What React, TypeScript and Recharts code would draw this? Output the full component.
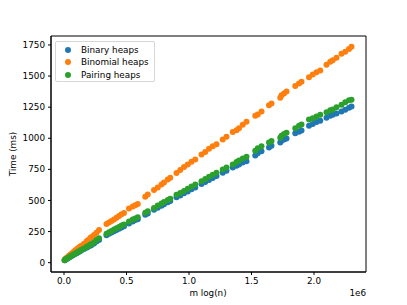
import { ScatterChart, Scatter, XAxis, YAxis, ReferenceArea } from 'recharts';

// m log(n) values (raw, axis shows them in units of 1e6)
const mLogN = [
  0.005, 0.01, 0.015, 0.02, 0.03, 0.04, 0.05, 0.06, 0.07, 0.08, 0.09, 0.1, 0.11, 0.12, 0.13, 0.14, 0.16, 0.18, 0.19,
  0.21, 0.22, 0.24, 0.26, 0.28, 0.34, 0.36, 0.38, 0.4, 0.42, 0.44, 0.46, 0.48, 0.52, 0.55, 0.57, 0.59, 0.65, 0.67,
  0.72, 0.75, 0.78, 0.8, 0.83, 0.85, 0.9, 0.93, 0.96, 0.99, 1.02, 1.05, 1.1, 1.13, 1.16, 1.19, 1.22, 1.27, 1.3,
  1.35, 1.38, 1.4, 1.43, 1.46, 1.53, 1.55, 1.58, 1.64, 1.66, 1.73, 1.74, 1.76, 1.78, 1.85, 1.88, 1.9, 1.96, 1.99,
  2.02, 2.05, 2.1, 2.13, 2.15, 2.18, 2.22, 2.25, 2.28, 2.3,
].map(v => v * 1e6);

const binomialMs = [
  22, 28, 33, 38, 46, 55, 64, 72, 80, 89, 98, 106, 114, 121, 129, 137, 152, 170, 180,
  198, 207, 222, 240, 262, 310, 322, 335, 348, 362, 376, 390, 400, 435, 452, 462, 472, 530, 548,
  585, 605, 628, 645, 668, 682, 720, 745, 768, 790, 812, 830, 870, 890, 915, 935, 952, 990, 1012,
  1050, 1065, 1080, 1108, 1132, 1180, 1192, 1215, 1265, 1280, 1326, 1345, 1360, 1375, 1420, 1440, 1455, 1490, 1512,
  1530, 1545, 1590, 1615, 1628, 1648, 1680, 1695, 1718, 1735,
];

const pairingMs = [
  20, 24, 28, 32, 38, 44, 50, 56, 62, 68, 74, 80, 86, 92, 97, 103, 114, 126, 132,
  144, 150, 164, 182, 196, 232, 245, 254, 266, 276, 287, 298, 306, 330, 346, 356, 365, 402, 414,
  440, 460, 475, 488, 504, 514, 545, 560, 577, 595, 612, 628, 655, 672, 690, 706, 722, 748, 765,
  790, 810, 822, 838, 852, 900, 920, 935, 965, 978, 1005, 1020, 1035, 1045, 1080, 1100, 1110, 1150, 1160,
  1175, 1188, 1210, 1225, 1232, 1250, 1270, 1290, 1305, 1310,
];

const binaryMs = [
  19, 23, 27, 30, 36, 42, 48, 54, 59, 65, 71, 76, 82, 88, 93, 99, 109, 120, 126,
  137, 142, 155, 170, 182, 220, 232, 242, 252, 262, 272, 283, 292, 315, 330, 342, 350, 385, 396,
  425, 442, 458, 470, 486, 496, 526, 540, 557, 572, 590, 605, 632, 648, 665, 680, 697, 722, 738,
  765, 780, 790, 805, 815, 862, 880, 895, 925, 940, 965, 980, 990, 998, 1040, 1052, 1062, 1100, 1115,
  1130, 1140, 1165, 1180, 1190, 1200, 1215, 1230, 1245, 1255,
];

const xTicks = [0, 500000, 1000000, 1500000, 2000000];
const yTicks = [0, 250, 500, 750, 1000, 1250, 1500, 1750];

const series = [
  { name: 'Binary heaps', color: '#1f77b4', values: binaryMs },
  { name: 'Binomial heaps', color: '#ff7f0e', values: binomialMs },
  { name: 'Pairing heaps', color: '#2ca02c', values: pairingMs },
];

const X_DOMAIN = [-104000, 2416000];
const Y_DOMAIN = [-75, 1822];
const font = 'DejaVu Sans, sans-serif';
const tickStyle = { fontSize: 8.8, fill: '#000', fontFamily: font };

const Dot = (color: string) => (props: any) => <circle cx={props.cx} cy={props.cy} r={3} fill={color} />;

const LegendBox = () => (
  <div
    style={{
      position: 'absolute',
      left: 55,
      top: 41,
      width: 98,
      height: 39,
      border: '1px solid #d6d6d6',
      borderRadius: 2,
      background: 'rgba(255,255,255,0.8)',
      fontFamily: font,
      fontSize: 8.8,
      color: '#000',
    }}
  >
    {series.map((s, i) => (
      <div key={s.name} style={{ position: 'absolute', top: 1.5 + i * 12.7, left: 9, height: 12, display: 'flex', alignItems: 'center' }}>
        <span style={{ width: 6, height: 6, borderRadius: 3, background: s.color, display: 'inline-block' }} />
        <span style={{ marginLeft: 10, whiteSpace: 'nowrap' }}>{s.name}</span>
      </div>
    ))}
  </div>
);

export default function App() {
  return (
    <div style={{ position: 'absolute', left: 0, top: 0, width: 407, height: 305, background: '#fff' }}>
      <ScatterChart width={407} height={305} margin={{ top: 36, right: 41, left: 0, bottom: 0 }}>
        <XAxis
          type="number"
          dataKey="x"
          domain={X_DOMAIN}
          ticks={xTicks}
          tickFormatter={v => (v / 1e6).toFixed(1)}
          allowDataOverflow
          height={33}
          tick={tickStyle}
          tickSize={3}
          tickMargin={3}
          stroke="#000"
        />
        <YAxis
          type="number"
          dataKey="y"
          domain={Y_DOMAIN}
          ticks={yTicks}
          allowDataOverflow
          width={51}
          tick={tickStyle}
          tickSize={3}
          tickMargin={3}
          stroke="#000"
        />
        {series.map(s => (
          <Scatter
            key={s.name}
            name={s.name}
            data={mLogN.map((x, i) => ({ x, y: s.values[i] }))}
            fill={s.color}
            shape={Dot(s.color)}
            isAnimationActive={false}
          />
        ))}
        <ReferenceArea
          x1={X_DOMAIN[0]}
          x2={X_DOMAIN[1]}
          y1={Y_DOMAIN[0]}
          y2={Y_DOMAIN[1]}
          fill="none"
          stroke="#000"
          strokeWidth={1}
          ifOverflow="visible"
        />
      </ScatterChart>
      <LegendBox />
      <div style={{ position: 'absolute', left: 208, top: 293, transform: 'translate(-50%,-50%)', fontFamily: font, fontSize: 8.8, whiteSpace: 'nowrap' }}>
        m log(n)
      </div>
      <div style={{ position: 'absolute', right: 41, top: 293, transform: 'translateY(-50%)', fontFamily: font, fontSize: 8.8 }}>
        1e6
      </div>
      <div
        style={{
          position: 'absolute',
          left: 13,
          top: 154,
          transform: 'translate(-50%,-50%) rotate(-90deg)',
          fontFamily: font,
          fontSize: 8.8,
          whiteSpace: 'nowrap',
        }}
      >
        Time (ms)
      </div>
    </div>
  );
}
